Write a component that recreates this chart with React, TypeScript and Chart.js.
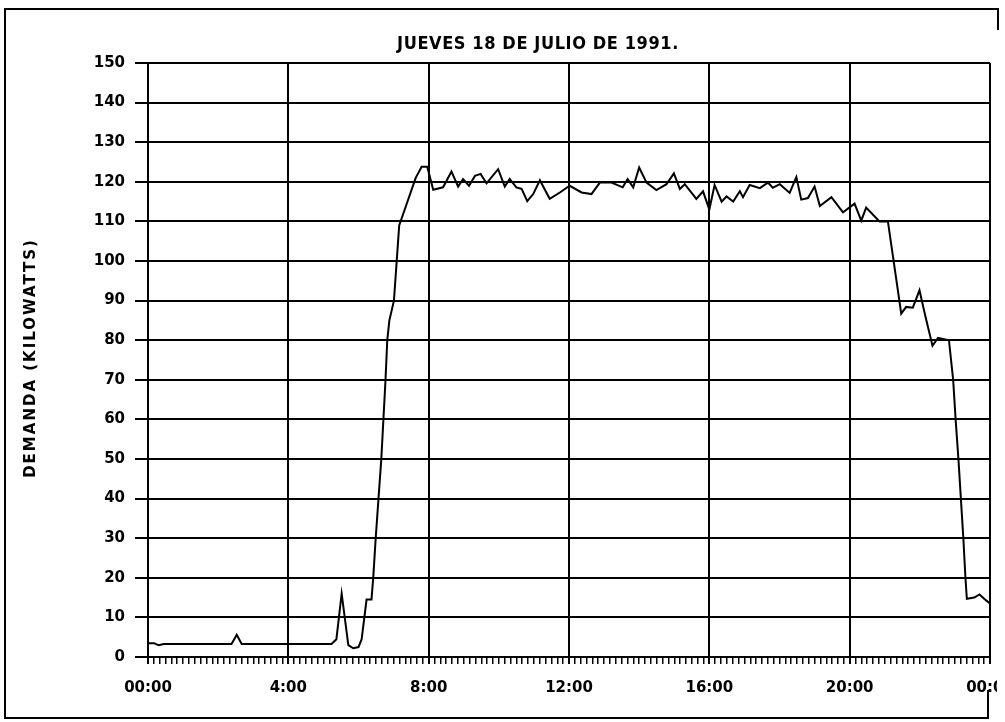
import React, { useEffect, useRef } from "react";
import { Chart, registerables } from "chart.js";

Chart.register(...registerables);

const TITLE = "JUEVES 18 DE JULIO DE 1991.";
const Y_TITLE = "DEMANDA (KILOWATTS)";
const X_TICK_LABELS = ["00:00", "4:00", "8:00", "12:00", "16:00", "20:00", "00:00"];

// hour of day
const HOURS = [
  0.0, 0.17, 0.3, 0.45, 1.0, 2.38, 2.53, 2.67, 4.0, 5.23, 5.37, 5.52, 5.71, 5.85, 6.0, 6.09, 6.23, 6.37,
  6.42, 6.49, 6.57, 6.65, 6.71, 6.77, 6.82, 6.88, 7.01, 7.16, 7.63, 7.8, 7.96, 8.13, 8.41, 8.65, 8.84,
  8.98, 9.15, 9.32, 9.48, 9.65, 9.98, 10.17, 10.31, 10.5, 10.65, 10.81, 10.98, 11.17, 11.45, 11.74,
  12.02, 12.36, 12.64, 12.88, 13.21, 13.53, 13.67, 13.83, 14.0, 14.21, 14.49, 14.78, 14.99, 15.16,
  15.3, 15.63, 15.82, 16.0, 16.15, 16.35, 16.49, 16.68, 16.87, 16.96, 17.15, 17.44, 17.67, 17.81,
  18.01, 18.29, 18.48, 18.62, 18.81, 19.0, 19.15, 19.48, 19.81, 20.14, 20.33, 20.47, 20.85, 21.09,
  21.47, 21.61, 21.8, 21.99, 22.16, 22.36, 22.52, 22.83, 22.95, 23.02, 23.1, 23.17, 23.24, 23.3,
  23.34, 23.55, 23.7, 23.89, 24.0,
];

// demand in kilowatts
const DEMANDA = [
  3.5, 3.5, 3.0, 3.3, 3.3, 3.3, 5.6, 3.3, 3.3, 3.3, 4.5, 16.0, 3.0, 2.2, 2.5, 4.5, 14.5, 14.5,
  20, 30, 40, 50, 60, 70, 80, 85, 90, 109, 121, 123.8, 123.8, 118, 118.6, 122.6, 118.8,
  120.7, 119.0, 121.5, 122.0, 119.6, 123.2, 118.8, 120.7, 118.6, 118.2, 115.1, 116.9, 120.4, 115.7, 117.3,
  119.0, 117.3, 116.9, 119.8, 119.8, 118.6, 120.7, 118.6, 123.6, 119.8, 117.9, 119.4, 122.1, 118.2,
  119.4, 115.7, 117.6, 113.0, 119.2, 115.0, 116.3, 115.0, 117.6, 116.1, 119.2, 118.4, 119.8, 118.5,
  119.4, 117.2, 121.2, 115.5, 115.9, 118.8, 113.9, 116.1, 112.3, 114.5, 110.2, 113.5, 110.0, 110.0,
  86.7, 88.4, 88.2, 92.6, 86, 78.6, 80.6, 80.0, 70, 60, 50, 40, 30, 20,
  14.7, 15.0, 15.8, 14.3, 13.5,
];

const FONT = "'DejaVu Sans', sans-serif";

const textPlugin = {
  id: "textPlugin",
  afterDraw(chart: any) {
    const ctx = chart.ctx as CanvasRenderingContext2D;
    ctx.save();
    ctx.fillStyle = "#000";
    ctx.textAlign = "center";
    ctx.textBaseline = "middle";
    ctx.font = "bold 18px 'DejaVu Sans Condensed', 'DejaVu Sans', sans-serif";
    (ctx as any).letterSpacing = "0.6px";
    ctx.fillText(TITLE, 538, 44);
    ctx.restore();

    ctx.save();
    ctx.fillStyle = "#000";
    ctx.translate(31, 358);
    ctx.rotate(-Math.PI / 2);
    ctx.textAlign = "center";
    ctx.textBaseline = "middle";
    ctx.font = "bold 15px " + FONT;
    (ctx as any).letterSpacing = "2px";
    ctx.fillText(Y_TITLE, 0, 0);
    ctx.restore();
  },
};

export default function App() {
  const ref = useRef<HTMLCanvasElement>(null);

  useEffect(() => {
    if (!ref.current) return;
    const points = HOURS.map((h, i) => ({ x: h * 60, y: DEMANDA[i] }));
    const chart = new Chart(ref.current, {
      type: "line",
      data: {
        datasets: [
          {
            data: points,
            borderColor: "#000",
            borderWidth: 2,
            pointRadius: 0,
            tension: 0,
            fill: false,
          },
        ],
      },
      options: {
        animation: false,
        responsive: false,
        events: [],
        layout: { padding: { left: 94, top: 63, right: 7, bottom: 0 } },
        plugins: {
          legend: { display: false },
          title: { display: false },
          tooltip: { enabled: false },
        },
        scales: {
          x: {
            type: "linear",
            min: 0,
            max: 1440,
            afterFit: (scale: any) => {
              scale.height = 65;
              scale.paddingRight = 0;
              scale.paddingLeft = 0;
            },
            border: { color: "#000", width: 2 },
            grid: {
              color: (c: any) => (c.index % 24 === 0 ? "#000" : "rgba(0,0,0,0)"),
              tickColor: "#000",
              lineWidth: (c: any) => (c.index % 24 === 0 ? 2 : 1.5),
              tickLength: 7,
            },
            ticks: {
              stepSize: 10,
              autoSkip: false,
              maxRotation: 0,
              minRotation: 0,
              padding: 15,
              color: "#000",
              font: { family: FONT, size: 15, weight: "bold" },
              callback: (_v: any, i: number) => (i % 24 === 0 ? X_TICK_LABELS[i / 24] : ""),
            },
          },
          y: {
            min: 0,
            max: 150,
            afterFit: (scale: any) => {
              scale.width = 54;
            },
            border: { color: "#000", width: 2 },
            grid: {
              color: "#000",
              lineWidth: 2,
              tickLength: 13,
            },
            ticks: {
              stepSize: 10,
              padding: 10,
              color: "#000",
              font: { family: FONT, size: 15, weight: "bold" },
            },
          },
        },
      },
      plugins: [textPlugin],
    });
    return () => chart.destroy();
  }, []);

  const line = (l: number, t: number, w: number, h: number) => (
    <div style={{ position: "absolute", left: l, top: t, width: w, height: h, background: "#000" }} />
  );

  return (
    <div style={{ position: "fixed", left: 0, top: 0, width: 1005, height: 722, background: "#fff", overflow: "hidden" }}>
      <canvas ref={ref} width={997} height={722} style={{ position: "absolute", left: 0, top: 0, width: 997, height: 722 }} />
      {line(4, 8, 995, 2)}
      {line(997, 8, 2, 22)}
      {line(4, 8, 2, 711)}
      {line(4, 717, 985, 2)}
      {line(987, 690, 2, 29)}
    </div>
  );
}
